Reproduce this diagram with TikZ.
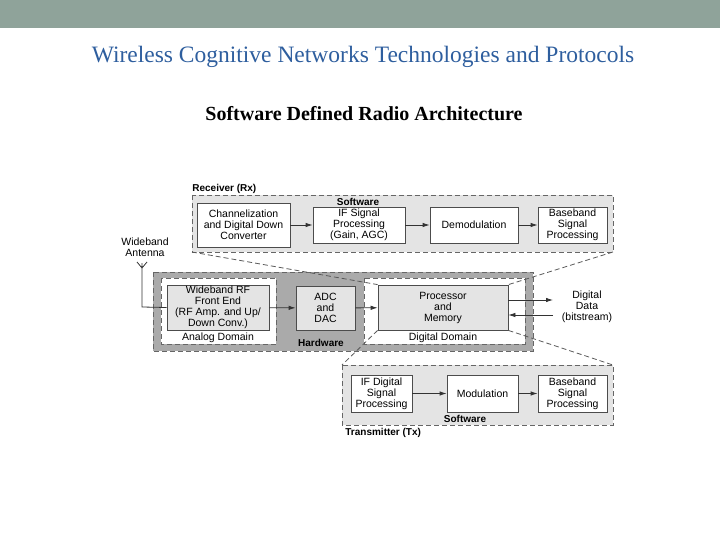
\documentclass[tikz,border=0pt]{standalone}
\usepackage{fontspec}
\setmainfont{Liberation Serif}
\newfontfamily\diag{Liberation Sans}
\usetikzlibrary{arrows.meta}
\definecolor{bar}{HTML}{8FA39A}
\definecolor{ttl}{HTML}{2E5E9E}
\definecolor{lg}{HTML}{E4E4E4}
\definecolor{dg}{HTML}{AAAAAA}
\begin{document}
\begin{tikzpicture}[x=1pt,y=-1pt,line width=0.8pt,
  blk/.style={draw=black!70,fill=white,align=center,font=\diag\fontsize{10.5}{11}\selectfont,inner sep=0pt},
  gblk/.style={blk,fill=lg},
  dsh/.style={dash pattern=on 5pt off 3pt},
  grp/.style={draw=black!60,dsh,fill=lg},
  lbl/.style={font=\diag\bfseries\fontsize{10}{11}\selectfont,inner sep=0pt},
  txt/.style={font=\diag\fontsize{10.5}{11}\selectfont,inner sep=0pt,align=center},
  arr/.style={-{Latex[length=7pt,width=4.5pt]},black!80},
  dl/.style={dsh,black!65}]
\useasboundingbox (0,0) rectangle (720,540);
\fill[bar] (0,0) rectangle (720,28);
\node[text=ttl,font=\fontsize{23.5}{26}\selectfont] (title) at (363,57) {Wireless Cognitive Networks Technologies and Protocols};
\node[font=\bfseries\fontsize{20}{22}\selectfont] (sub) at (364,114) {Software Defined Radio Architecture};
% Receiver
\draw[grp] (192,195) rectangle (613,252);
\node[lbl,anchor=south west] (rxl) at (192,194) {Receiver (Rx)};
\node[lbl] (rxs) at (358,202) {Software};
\node[blk,minimum width=93,minimum height=44] (ch) at (243.5,225) {Channelization\\and Digital Down\\Converter};
\node[blk,minimum width=92,minimum height=36] (ifs) at (359,225) {IF Signal\\Processing\\(Gain, AGC)};
\node[blk,minimum width=88,minimum height=36] (dem) at (474,225) {Demodulation};
\node[blk,minimum width=69,minimum height=36] (bb) at (572.5,225) {Baseband\\Signal\\Processing};
\draw[arr] (ch) -- (ifs); \draw[arr] (ifs) -- (dem); \draw[arr] (dem) -- (bb);
% Hardware
\draw[dsh,draw=black!60,fill=dg] (153,272) rectangle (533,351);
\draw[dsh,draw=black!60,fill=white] (161,278) rectangle (276,344);
\draw[dsh,draw=black!60,fill=white] (364,278) rectangle (525,344);
\node[gblk,minimum width=102,minimum height=45] (rf) at (218,307.5) {Wideband RF\\Front End\\(RF Amp. and Up/\\Down Conv.)};
\node[gblk,minimum width=59,minimum height=44] (adc) at (325.5,308) {ADC\\and\\DAC};
\node[gblk,minimum width=130,minimum height=45] (pm) at (443,307.5) {Processor\\and\\Memory};
\node[txt] (ad) at (218,337.5) {Analog Domain};
\node[txt] (dd) at (443,337.5) {Digital Domain};
\node[lbl] (hw) at (321,343) {Hardware};
\node[txt] (ant) at (145,247) {Wideband\\Antenna};
\coordinate (a0) at (142,263);
\coordinate (a1) at (142,307);
\draw[black!80] (137,262) -- (142,268) -- (147,262) (a0) -- (a1) -- (rf.west);
\draw[arr] (rf) -- (adc); \draw[arr] (adc) -- (pm);
\node[txt] (dig) at (587,307) {Digital\\Data\\(bitstream)};
\coordinate (o1) at (553,300); \coordinate (i1) at (553,315);
\draw[arr] (pm.east |- o1) -- (o1);
\draw[arr] (i1) -- (pm.east |- i1);
% Transmitter
\draw[grp] (342,365) rectangle (613,425);
\node[blk,minimum width=61,minimum height=37] (ifd) at (381.5,393.5) {IF Digital\\Signal\\Processing};
\node[blk,minimum width=71,minimum height=37] (mod) at (482.5,393.5) {Modulation};
\node[blk,minimum width=69,minimum height=37] (bb2) at (572.5,393.5) {Baseband\\Signal\\Processing};
\draw[arr] (ifd) -- (mod); \draw[arr] (mod) -- (bb2);
\node[lbl] (txs) at (465,419) {Software};
\node[lbl,anchor=north west] (txl) at (345,428) {Transmitter (Tx)};
% dashed connectors
\draw[dl] (192,252) -- (pm.north west);
\draw[dl] (613,252) -- (pm.north east);
\draw[dl] (pm.south west) -- (342,365);
\draw[dl] (pm.south east) -- (613,365);
\end{tikzpicture}
\end{document}
